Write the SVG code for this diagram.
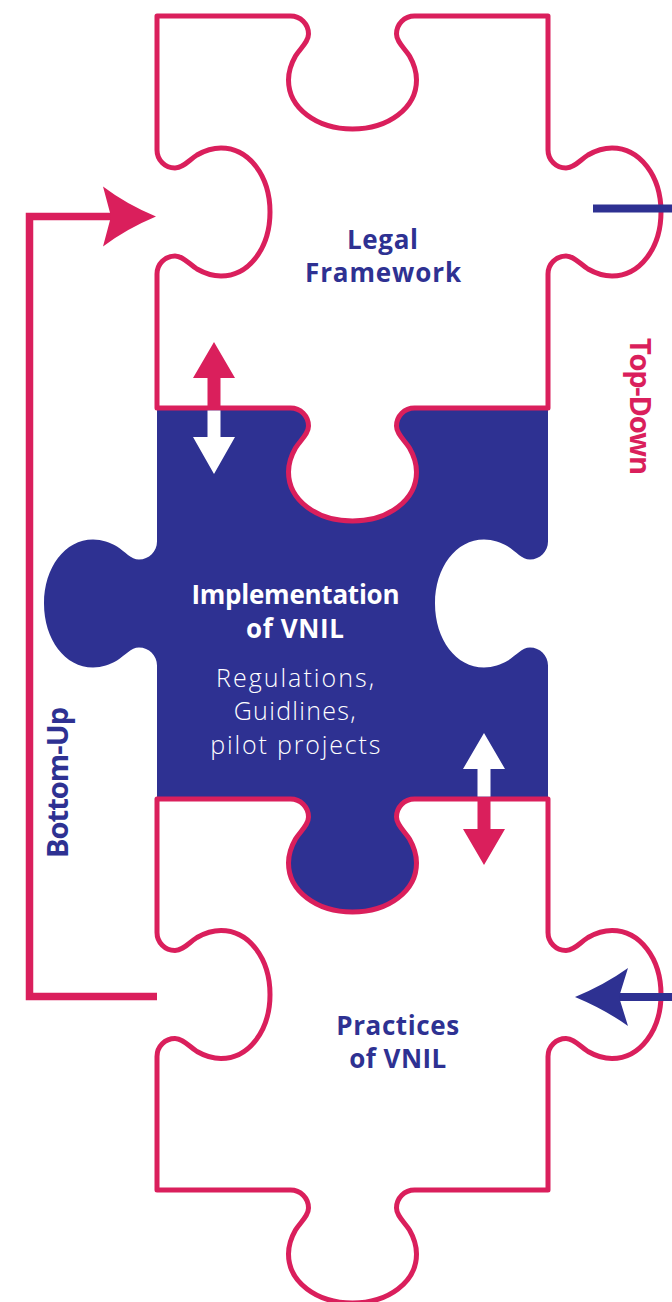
<svg xmlns="http://www.w3.org/2000/svg" width="672" height="1302" viewBox="0 0 672 1302">
<defs>
<style>
.piece{fill:#FFFFFF;stroke:#DA1F5C;stroke-width:5;stroke-linejoin:round}
.mid{fill:#2E3192}
.t{font-family:"Open Sans","Liberation Sans",sans-serif;text-anchor:middle}
.b{font-weight:700;font-size:26px}
.l{font-weight:300;font-size:25px}
.blue{fill:#2E3192}
.white{fill:#FFFFFF}
.pink{fill:#DA1F5C}
.loop{fill:none;stroke:#DA1F5C;stroke-width:7.5}
.bline{fill:none;stroke:#2E3192;stroke-width:8}
</style>
</defs>
<rect x="0" y="0" width="672" height="1302" fill="#FFFFFF"/>

<g id="implementation">
<path class="mid" d="M157,408 H290.5 C300.5,408 308.5,416 308.5,426 C308.5,434 300.5,440 295.5,448 C291.5,455 288.5,463 288.5,472 C288.5,500 316.5,521 352.5,521 C388.5,521 416.5,500 416.5,472 C416.5,463 413.5,455 409.5,448 C404.5,440 396.5,434 396.5,426 C396.5,416 404.5,408 414.5,408 H548 V541.5 C548,551.5 540,559.5 530,559.5 C522,559.5 516,551.5 508,546.5 C501,542.5 493,539.5 484,539.5 C456,539.5 435,567.5 435,603.5 C435,639.5 456,667.5 484,667.5 C493,667.5 501,664.5 508,660.5 C516,655.5 522,647.5 530,647.5 C540,647.5 548,655.5 548,665.5 V799 H414.5 C404.5,799 396.5,807 396.5,817 C396.5,825 404.5,831 409.5,839 C413.5,846 416.5,854 416.5,863 C416.5,891 388.5,912 352.5,912 C316.5,912 288.5,891 288.5,863 C288.5,854 291.5,846 295.5,839 C300.5,831 308.5,825 308.5,817 C308.5,807 300.5,799 290.5,799 H157 V665.5 C157,655.5 149,647.5 139,647.5 C131,647.5 125,655.5 117,660.5 C110,664.5 102,667.5 93,667.5 C65,667.5 44,639.5 44,603.5 C44,567.5 65,539.5 93,539.5 C102,539.5 110,542.5 117,546.5 C125,551.5 131,559.5 139,559.5 C149,559.5 157,551.5 157,541.5 Z"/>
<text class="t b white" x="295.5" y="604" textLength="208">Implementation</text>
<text class="t b white" x="295" y="638" textLength="98">of VNIL</text>
<text class="t l white" x="295" y="687" textLength="158">Regulations,</text>
<text class="t l white" x="294.7" y="720" textLength="122">Guidlines,</text>
<text class="t l white" x="295.3" y="754" textLength="170">pilot projects</text>
</g>

<g id="legal-framework">
<path class="piece" d="M157,16 H290.5 C300.5,16 308.5,24 308.5,34 C308.5,42 300.5,48 295.5,56 C291.5,63 288.5,71 288.5,80 C288.5,108 316.5,129 352.5,129 C388.5,129 416.5,108 416.5,80 C416.5,71 413.5,63 409.5,56 C404.5,48 396.5,42 396.5,34 C396.5,24 404.5,16 414.5,16 H548 V150 C548,160 556,168 566,168 C574,168 580,160 588,155 C595,151 603,148 612,148 C640,148 661,176 661,212 C661,248 640,276 612,276 C603,276 595,273 588,269 C580,264 574,256 566,256 C556,256 548,264 548,274 V408 H414.5 C404.5,408 396.5,416 396.5,426 C396.5,434 404.5,440 409.5,448 C413.5,455 416.5,463 416.5,472 C416.5,500 388.5,521 352.5,521 C316.5,521 288.5,500 288.5,472 C288.5,463 291.5,455 295.5,448 C300.5,440 308.5,434 308.5,426 C308.5,416 300.5,408 290.5,408 H157 V274 C157,264 165,256 175,256 C183,256 189,264 197,269 C204,273 212,276 221,276 C249,276 270,248 270,212 C270,176 249,148 221,148 C212,148 204,151 197,155 C189,160 183,168 175,168 C165,168 157,160 157,150 Z"/>
<text class="t b blue" x="382.5" y="249" textLength="71">Legal</text>
<text class="t b blue" x="383" y="282" textLength="156">Framework</text>
</g>

<g id="practices">
<path class="piece" d="M157,799 H290.5 C300.5,799 308.5,807 308.5,817 C308.5,825 300.5,831 295.5,839 C291.5,846 288.5,854 288.5,863 C288.5,891 316.5,912 352.5,912 C388.5,912 416.5,891 416.5,863 C416.5,854 413.5,846 409.5,839 C404.5,831 396.5,825 396.5,817 C396.5,807 404.5,799 414.5,799 H548 V932.5 C548,942.5 556,950.5 566,950.5 C574,950.5 580,942.5 588,937.5 C595,933.5 603,930.5 612,930.5 C640,930.5 661,958.5 661,994.5 C661,1030.5 640,1058.5 612,1058.5 C603,1058.5 595,1055.5 588,1051.5 C580,1046.5 574,1038.5 566,1038.5 C556,1038.5 548,1046.5 548,1056.5 V1190 H414.5 C404.5,1190 396.5,1198 396.5,1208 C396.5,1216 404.5,1222 409.5,1230 C413.5,1237 416.5,1245 416.5,1254 C416.5,1282 388.5,1303 352.5,1303 C316.5,1303 288.5,1282 288.5,1254 C288.5,1245 291.5,1237 295.5,1230 C300.5,1222 308.5,1216 308.5,1208 C308.5,1198 300.5,1190 290.5,1190 H157 V1056.5 C157,1046.5 165,1038.5 175,1038.5 C183,1038.5 189,1046.5 197,1051.5 C204,1055.5 212,1058.5 221,1058.5 C249,1058.5 270,1030.5 270,994.5 C270,958.5 249,930.5 221,930.5 C212,930.5 204,933.5 197,937.5 C189,942.5 183,950.5 175,950.5 C165,950.5 157,942.5 157,932.5 Z"/>
<text class="t b blue" x="397.7" y="1035" textLength="123">Practices</text>
<text class="t b blue" x="397.8" y="1068" textLength="97">of VNIL</text>
</g>

<g id="connectors">
<path class="loop" d="M157,996.5 H29.5 V216.5 H114"/>
<path class="pink" d="M156,216.5 Q126,204 103,186.5 L111,216.5 L103,246.5 Q126,229 156,216.5 Z"/>
<path class="bline" d="M593,208.5 H672"/>
<path class="bline" d="M616,997 H672"/>
<path class="blue" d="M575,997 Q605,984.5 628,968 L619,997 L628,1026 Q605,1009.5 575,997 Z"/>
<path class="pink" d="M207.5,409 V378 H193 L214,342 L235,378 H220.5 V409 Z"/>
<path class="white" d="M207.5,410.5 V437 H193 L214,474 L235,437 H220.5 V410.5 Z"/>
<path class="white" d="M477.5,796.5 V769 H463 L484,733 L505,769 H490.5 V796.5 Z"/>
<path class="pink" d="M477.5,798 V829 H463 L484,865 L505,829 H490.5 V798 Z"/>
</g>

<g id="labels">
<text class="t b pink" transform="translate(630,406.5) rotate(90)" x="0" y="0" textLength="137" style="font-size:29px">Top-Down</text>
<text class="t b blue" transform="translate(68,782.5) rotate(-90)" x="0" y="0" textLength="151" style="font-size:29px">Bottom-Up</text>
</g>
</svg>
